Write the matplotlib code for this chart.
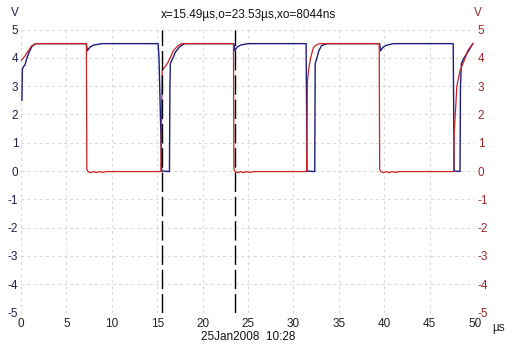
import matplotlib
matplotlib.use('Agg')
import matplotlib.pyplot as plt

plt.rcParams['font.family'] = ['Liberation Sans', 'DejaVu Sans']
plt.rcParams['axes.unicode_minus'] = False

# channel A (blue, left axis), time in us, volts
blue_t = [0.1, 0.15, 0.3, 0.45, 0.6, 0.9, 1.2, 1.6,
          7.2, 7.3, 7.6, 8.0, 8.9,
          15.1, 15.2, 15.5, 16.35, 16.4, 16.45, 16.6, 17.0, 17.5, 18.0,
          23.45, 23.55, 23.8, 24.2, 25.0,
          31.4, 31.5, 32.35, 32.4, 32.6, 32.8, 33.1, 33.7,
          39.5, 39.6, 39.9, 40.3, 41.0,
          47.6, 47.7, 48.35, 48.4, 48.5, 48.8, 49.1, 49.4, 49.75]
blue_v = [2.5, 3.6, 3.7, 3.75, 3.95, 4.2, 4.4, 4.5,
          4.5, 4.25, 4.38, 4.45, 4.5,
          4.5, 4.0, 0.0, -0.02, 3.0, 3.8, 3.9, 4.2, 4.4, 4.5,
          4.5, 4.25, 4.38, 4.45, 4.5,
          4.5, 0.0, -0.02, 3.8, 4.0, 4.25, 4.43, 4.5,
          4.5, 4.25, 4.38, 4.45, 4.5,
          4.5, 0.0, -0.02, 3.0, 3.8, 4.0, 4.15, 4.3, 4.5]

# channel B (red, right axis)
red_t = [0.0, 0.4, 0.8, 1.2, 1.6, 7.2, 7.25, 7.4, 7.7, 8.0, 8.3, 8.6, 9.0, 9.4, 10.0,
         15.4, 15.55, 15.9, 16.2, 16.5, 16.8, 17.3, 17.7,
         23.4, 23.45, 23.6, 23.9, 24.2, 24.5, 24.8, 25.2, 25.6, 26.0,
         31.45, 31.55, 31.7, 31.9, 32.2, 32.5, 32.9,
         39.45, 39.5, 39.65, 39.95, 40.25, 40.55, 40.85, 41.25, 41.65, 42.0,
         47.65, 47.7, 47.9, 48.0, 48.35, 48.9, 49.2, 49.6, 49.8]
red_v = [3.9, 4.05, 4.25, 4.43, 4.5, 4.5, 0.05, -0.03, -0.06, -0.02, -0.06, -0.02, -0.05, -0.02, -0.02,
         -0.02, 3.55, 3.7, 3.84, 4.05, 4.26, 4.43, 4.5,
         4.5, 0.05, -0.03, -0.06, -0.02, -0.06, -0.02, -0.05, -0.02, -0.02,
         -0.02, 3.2, 3.65, 4.0, 4.36, 4.45, 4.5,
         4.5, 0.05, -0.03, -0.06, -0.02, -0.06, -0.02, -0.05, -0.02, -0.02,
         -0.02, 1.3, 2.4, 3.0, 3.55, 3.97, 4.25, 4.43, 4.5]

cursor_x = [15.49, 23.53]
x_ticks = list(range(0, 51, 5))
y_ticks = list(range(-5, 6))
title = 'x=15.49\u00b5s,o=23.53\u00b5s,xo=8044ns'
date_label = '25Jan2008  10:28'

blue = '#1c1c80'
red = '#cc2222'

fig = plt.figure(figsize=(5.22, 3.55), dpi=100)
ax = fig.add_axes([21 / 522, 1 - 312.5 / 355, 454 / 522, 283 / 355])
ax2 = ax.twinx()

for a in (ax, ax2):
    a.set_xlim(0, 50)
    a.set_ylim(-5, 5)
    for s in a.spines.values():
        s.set_visible(False)
    a.set_yticks(y_ticks)

ax.set_xticks(x_ticks)
ax.grid(True, color='#d9d9d9', linestyle=(0, (2.5, 3)), linewidth=0.8)
ax.set_axisbelow(True)

ax.tick_params(axis='x', length=0, pad=4, labelsize=8.5, labelcolor='#222222')
ax.tick_params(axis='y', length=0, pad=2, labelsize=8.5, labelcolor='#202050')
ax2.tick_params(axis='y', length=0, pad=2, labelsize=8.5, labelcolor='#a02828')

ax.plot(blue_t, blue_v, color=blue, lw=1.0)
ax2.plot(red_t, red_v, color=red, lw=0.9)

for cx in cursor_x:
    ax2.axvline(cx, color='black', lw=1.0, linestyle=(0, (14, 3.5)))

fig.text(248 / 522, 1 - 15 / 355, title, ha='center', va='center', fontsize=8.5, color='#111111')
fig.text(248 / 522, 1 - 337 / 355, date_label, ha='center', va='center', fontsize=8.5, color='#111111')
fig.text(499 / 522, 1 - 328 / 355, '\u00b5s', ha='center', va='center', fontsize=8.5, color='#222222')
fig.text(15 / 522, 1 - 13 / 355, 'V', ha='center', va='center', fontsize=8.5, color='#202050')
fig.text(478 / 522, 1 - 13 / 355, 'V', ha='center', va='center', fontsize=8.5, color='#a02828')

fig.savefig('out.png', dpi=100)
